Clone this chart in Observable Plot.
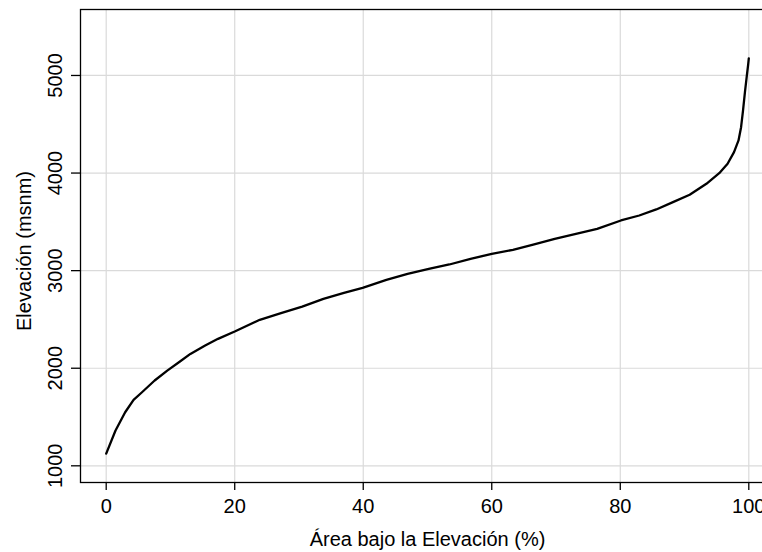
<!DOCTYPE html>
<html>
<head>
<meta charset="utf-8">
<script src="https://cdn.jsdelivr.net/npm/d3@7"></script>
<script src="https://cdn.jsdelivr.net/npm/@observablehq/plot@0.6"></script>
<style>
  html, body { margin: 0; padding: 0; background: #fff; overflow: hidden; }
  #chart { width: 762px; height: 552px; overflow: hidden; }
  #chart svg { max-width: none !important; width: 774px !important; height: 552px !important; display: block; }
</style>
</head>
<body>
<div id="chart"></div>
<script>
// Curva hipsométrica: porcentaje del área bajo cada elevación
const areaPct = [0, 1.45, 2.95, 4.26, 5.57, 7.54, 9.5, 11.48, 13.1, 15.4, 17.4, 20, 23.9, 27.2,
  30.5, 33.8, 37, 39.9, 43.6, 46.9, 50.2, 53.4, 56.7, 60, 63.3, 66.6, 69.8, 73.1, 76.4, 80.1,
  82.95, 85.6, 88.2, 90.8, 93.4, 95.4, 96.7, 97.7, 98.4, 98.8, 99.1, 99.4, 99.7, 99.9, 100];
const elevacion = [1125, 1362, 1549, 1676, 1754, 1874, 1976, 2069, 2147, 2233, 2301, 2376, 2496, 2564,
  2632, 2711, 2772, 2824, 2906, 2967, 3018, 3063, 3121, 3172, 3213, 3268, 3326, 3377, 3428, 3514,
  3565, 3627, 3702, 3777, 3890, 3999, 4095, 4214, 4334, 4470, 4640, 4830, 5000, 5110, 5175];

const xTicks = [0, 20, 40, 60, 80, 100];
const yTicks = [1000, 2000, 3000, 4000, 5000];
const xTitle = "Área bajo la Elevación (%)";
const yTitle = "Elevación (msnm)";

const data = areaPct.map((a, i) => ({area: a, elev: elevacion[i]}));
const gridColor = "#dadada";

const chart = Plot.plot({
  width: 774,
  height: 552,
  marginLeft: 80,
  marginRight: 0,
  marginTop: 9,
  marginBottom: 70,
  style: {fontFamily: "'Liberation Sans', Arial, sans-serif", fontSize: "20px", color: "#000", background: "#fff"},
  x: {domain: [-4, 104]},
  y: {domain: [829, 5676]},
  marks: [
    Plot.ruleX(xTicks, {stroke: gridColor, strokeWidth: 1.2}),
    Plot.ruleY(yTicks, {stroke: gridColor, strokeWidth: 1.2}),
    Plot.frame({stroke: "#000", strokeWidth: 1.3}),
    Plot.axisX({ticks: xTicks, tickSize: 8, tickPadding: 8, fontSize: 20, label: null, strokeWidth: 1.3, tickFormat: d => String(d)}),
    Plot.axisY({ticks: yTicks, tickSize: 9, tickPadding: 10, tickRotate: -90, fontSize: 20, label: null, strokeWidth: 1.3, tickFormat: d => String(d)}),
    Plot.text([xTitle], {frameAnchor: "bottom", dy: 63, lineAnchor: "bottom", fontSize: 20, fill: "#000"}),
    Plot.text([yTitle], {frameAnchor: "left", dx: -50, dy: 5, rotate: -90, lineAnchor: "bottom", textAnchor: "middle", fontSize: 20, fill: "#000"}),
    Plot.line(data, {x: "area", y: "elev", stroke: "#000", strokeWidth: 2.3, strokeLinejoin: "round"})
  ]
});

document.getElementById("chart").appendChild(chart);
</script>
</body>
</html>
